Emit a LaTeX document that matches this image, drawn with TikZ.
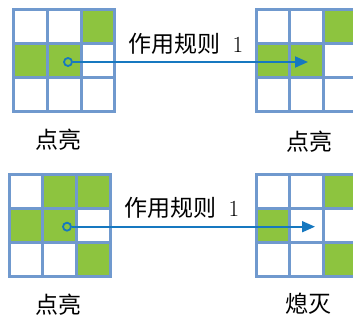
\documentclass[tikz,border=0pt]{standalone}
\usepackage{fontspec}
\newfontfamily\cjk{Noto Sans CJK SC}
\usetikzlibrary{arrows.meta}
\definecolor{gridblue}{RGB}{112,153,206}
\definecolor{cellgreen}{RGB}{141,196,63}
\definecolor{arrowblue}{RGB}{22,120,192}
\tikzset{
  cellg/.style={fill=cellgreen, draw=none, inner sep=0pt, minimum size=33.8pt},
  gridline/.style={draw=gridblue, line width=3pt, line cap=rect},
  dotc/.style={circle, draw=arrowblue, line width=1.8pt, minimum size=8pt, inner sep=0pt},
  arrowline/.style={draw=arrowblue, line width=1.8pt, -{Triangle[length=13pt,width=11pt]}},
  lbl/.style={inner sep=0pt, font=\fontsize{23}{23}\selectfont}
}
\newcommand\mygrid[4]{%
  \foreach \c/\r in {#4} {\node[cellg] (#1-\c\r) at (#2+\c*33.8-16.9, #3+\r*33.8-16.9) {};}
  \foreach \i in {0,...,3} {
    \draw[gridline] (#2+\i*33.8,#3) -- (#2+\i*33.8,#3+101.4);
    \draw[gridline] (#2,#3+\i*33.8) -- (#2+101.4,#3+\i*33.8);
  }
}
\begin{document}
\begin{tikzpicture}[x=1pt,y=-1pt]
\useasboundingbox (0,0) rectangle (353,320);
\clip (0,0) rectangle (353,320);
\fill[white] (0,0) rectangle (353,320);
% top row
\mygrid{A}{13.5}{10}{3/1,1/2,2/2}
\mygrid{B}{256}{10}{3/1,1/2,2/2}
% bottom row
\mygrid{C}{9}{175}{2/1,3/1,1/2,2/2,3/3}
\mygrid{D}{256}{175}{3/1,1/2,3/3}
% arrows
\node[dotc] (d1) at (68,62) {};
\coordinate (e1) at (308,62);
\draw[arrowline] (d1) -- (e1);
\node[dotc] (d2) at (67,226.7) {};
\coordinate (e2) at (315,226.7);
\draw[arrowline] (d2) -- (e2);
% labels
\node[lbl] (t1) at (186,44) {{\cjk 作用规则}\hspace{12pt}1};
\node[lbl] (t2) at (182,208) {{\cjk 作用规则}\hspace{12pt}1};
\node[lbl] (l1) at (58,140) {\cjk 点亮};
\node[lbl] (l2) at (309,142) {\cjk 点亮};
\node[lbl] (l3) at (58,305) {\cjk 点亮};
\node[lbl] (l4) at (308,304) {\cjk 熄灭};
\end{tikzpicture}
\end{document}
